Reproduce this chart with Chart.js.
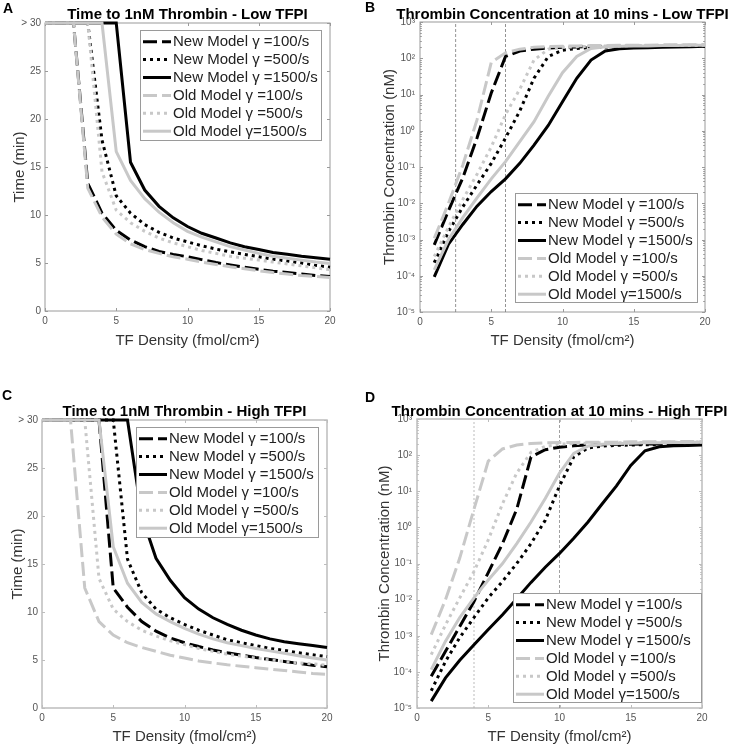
<!DOCTYPE html>
<html><head><meta charset="utf-8">
<script src="https://cdn.jsdelivr.net/npm/chart.js@4/dist/chart.umd.min.js"></script>
<style>
body{margin:0;background:#fff;width:731px;height:747px;position:relative;overflow:hidden}
canvas{position:absolute}
</style></head><body>
<canvas id="cA" width="365" height="390" style="left:0;top:0"></canvas>
<canvas id="cB" width="366" height="390" style="left:365px;top:0"></canvas>
<canvas id="cC" width="365" height="357" style="left:0;top:390px"></canvas>
<canvas id="cD" width="366" height="357" style="left:365px;top:390px"></canvas>
<script>
// ---------- data ----------
const seriesNames = ['New Model \u03b3 =100/s','New Model \u03b3 =500/s','New Model \u03b3 =1500/s','Old Model \u03b3 =100/s','Old Model \u03b3 =500/s','Old Model \u03b3=1500/s'];
const xTickLabels = ['0','5','10','15','20'];
const timeTickLabels = ['0','5','10','15','20','25','> 30'];
const logTickValues = [1e-5,1e-4,1e-3,1e-2,1e-1,1,10,100,1000];
const logTickLabels = ['10\u207b\u2075','10\u207b\u2074','10\u207b\u00b3','10\u207b\u00b2','10\u207b\u00b9','10\u2070','10\u00b9','10\u00b2','10\u00b3'];

const tfTime = [0,1,2,3,4,5,6,7,8,9,10,11,12,13,14,15,16,17,18,19,20];
const tfConc = [1,2,3,4,5,6,7,8,9,10,11,12,13,14,15,16,17,18,19,20];

// Panel A: time to 1nM thrombin, low TFPI (min; 30 = "> 30")
const A_new100  = [30,30,30,13.3,10.2,8.4,7.4,6.7,6.2,5.9,5.65,5.35,5.05,4.8,4.55,4.35,4.15,4.0,3.85,3.7,3.6];
const A_new500  = [30,30,30,30,17.8,12.0,10.2,9.0,8.2,7.6,7.2,6.8,6.45,6.15,5.9,5.65,5.4,5.2,5.0,4.75,4.55];
const A_new1500 = [30,30,30,30,30,30,15.5,12.6,10.9,9.7,8.8,8.1,7.6,7.1,6.7,6.4,6.1,5.9,5.7,5.55,5.4];
const A_old100  = [30,30,30,12.8,9.8,8.0,7.0,6.4,6.0,5.65,5.4,5.1,4.85,4.6,4.4,4.2,4.0,3.85,3.7,3.6,3.5];
const A_old500  = [30,30,30,30,14.5,10.5,9.2,8.3,7.6,7.1,6.7,6.3,6.0,5.7,5.5,5.3,5.1,4.9,4.7,4.5,4.3];
const A_old1500 = [30,30,30,30,30,16.6,13.6,11.7,10.3,9.2,8.3,7.7,7.2,6.7,6.35,6.0,5.7,5.5,5.3,5.1,4.95];

// Panel B: thrombin at 10 min, low TFPI (nM)
const B_new100  = [7.1e-4,6.3e-3,0.05,0.63,11,112,158,178,191,200,204,209,209,214,214,219,219,224,224,224];
const B_new500  = [2.3e-4,1.66e-3,7.9e-3,0.032,0.126,0.63,3.5,28,112,166,186,200,204,209,209,214,214,219,219,219];
const B_new1500 = [9.3e-5,7.4e-4,2.6e-3,8.3e-3,0.021,0.047,0.126,0.4,1.4,6.3,28,89,158,182,191,195,200,204,209,214];
const B_old100  = [1.07e-3,0.01,0.112,2.0,76,141,178,200,209,214,219,224,224,229,229,229,234,234,234,240];
const B_old500  = [3.4e-4,2.2e-3,0.0126,0.063,0.355,2.8,14,89,178,200,209,214,219,219,224,224,224,229,229,229];
const B_old1500 = [1.45e-4,1.0e-3,4.0e-3,0.014,0.047,0.141,0.5,1.78,8.9,40,112,186,209,214,219,219,224,224,229,229];
const B_refLines = [2.5, 6];

// Panel C: time to 1nM thrombin, high TFPI
const C_new100  = [30,30,30,30,30,12.5,10.5,9.0,8.0,7.3,6.8,6.4,6.05,5.75,5.5,5.25,5.05,4.85,4.65,4.45,4.3];
const C_new500  = [30,30,30,30,30,30,15.5,12.0,10.3,9.4,8.7,8.1,7.6,7.1,6.8,6.5,6.2,6.0,5.75,5.55,5.35];
const C_new1500 = [30,30,30,30,30,30,30,20.0,15.6,13.3,11.5,10.3,9.4,8.7,8.1,7.6,7.2,6.9,6.7,6.5,6.3];
const C_old100  = [30,30,30,12.5,9.0,7.6,6.8,6.3,5.9,5.5,5.2,4.9,4.7,4.5,4.35,4.2,4.05,3.9,3.75,3.6,3.5];
const C_old500  = [30,30,30,30,13.5,10.3,9.0,8.1,7.5,7.0,6.6,6.2,5.9,5.6,5.4,5.2,5.0,4.85,4.7,4.6,4.45];
const C_old1500 = [30,30,30,30,30,16.8,13.0,11.0,9.8,9.0,8.3,7.7,7.2,6.8,6.5,6.2,5.95,5.7,5.45,5.2,5.0];

// Panel D: thrombin at 10 min, high TFPI
const D_new100  = [7.6e-5,3.7e-4,1.8e-3,8.9e-3,0.056,0.355,3.2,89,141,166,182,191,195,200,200,204,204,209,209,209];
const D_new500  = [3.0e-5,1.95e-4,8.9e-4,3.2e-3,0.0112,0.032,0.1,0.355,1.58,14,89,158,178,186,191,195,195,200,200,200];
const D_new1500 = [1.55e-5,6.8e-5,2.1e-4,5.6e-4,1.48e-3,3.8e-3,0.0105,0.03,0.079,0.19,0.5,1.41,4.5,14,52,132,170,182,186,191];
const D_old100  = [1.07e-3,0.01,0.141,3.2,68,148,191,209,219,224,224,229,229,229,234,234,234,234,240,240];
const D_old500  = [3.0e-4,2.0e-3,0.0112,0.06,0.45,4.5,32,120,174,200,209,214,219,219,224,224,229,229,229,234];
const D_old1500 = [1.15e-4,7.1e-4,3.2e-3,0.0112,0.035,0.1,0.355,1.41,6.3,32,112,178,200,209,214,219,219,224,224,229];
const D_refLines = [4, 10];

// ---------- styling ----------
const FONT = '"Liberation Sans", Arial, Helvetica, sans-serif';
const STY = [
  {c:'#000000', d:[14,5]}, {c:'#000000', d:[3,4]}, {c:'#000000', d:[]},
  {c:'#c8c8c8', d:[14,5]}, {c:'#c8c8c8', d:[3,4]}, {c:'#c8c8c8', d:[]}
];

function series(xs, ys, i) {
  return {
    label: seriesNames[i],
    data: xs.map((x, k) => ({x: x, y: ys[k]})),
    borderColor: STY[i].c, borderDash: STY[i].d, borderWidth: 3,
    pointRadius: 0, tension: 0, fill: false, order: 20 - i, clip: 6,
    borderCapStyle: 'butt', borderJoinStyle: 'miter'
  };
}
function refLine(x, color, dash) {
  return {label: '', isRef: true, data: [{x: x, y: 1e-5}, {x: x, y: 1e3}],
    borderColor: color, borderDash: dash, borderWidth: 0.8, pointRadius: 0, order: 40, clip: 0};
}

function decoPlugin(cfg) {
  return {
    id: 'deco' + cfg.letter,
    beforeDatasetsDraw(chart) {
      const {ctx, chartArea: a, scales: {x, y}} = chart;
      ctx.save();
      ctx.strokeStyle = cfg.frame; ctx.lineWidth = cfg.frameW;
      ctx.strokeRect(a.left, a.top, a.right - a.left, a.bottom - a.top);
      ctx.lineWidth = 1;
      const L = (x1, y1, x2, y2) => { ctx.beginPath(); ctx.moveTo(x1, y1); ctx.lineTo(x2, y2); ctx.stroke(); };
      x.ticks.forEach(t => { const p = Math.round(x.getPixelForValue(t.value)) + 0.5; L(p, a.bottom, p, a.bottom - 3); L(p, a.top, p, a.top + 3); });
      y.ticks.forEach(t => { const p = Math.round(y.getPixelForValue(t.value)) + 0.5; L(a.left, p, a.left + 3, p); L(a.right, p, a.right - 3, p); });
      if (cfg.log) {
        for (let k = 0; k < logTickValues.length - 1; k++) {
          for (let m = 2; m <= 9; m++) {
            const p = Math.round(y.getPixelForValue(logTickValues[k] * m)) + 0.5;
            L(a.left, p, a.left + 1.8, p); L(a.right, p, a.right - 1.8, p);
          }
        }
      }
      ctx.restore();
    },
    afterDatasetsDraw(chart) {
      const {ctx, chartArea: a} = chart;
      const G = cfg.legend;
      const bx = a.right - G.dr - G.w;
      const by = (G.top != null) ? a.top + G.top : a.bottom - G.bottom - G.h;
      ctx.save();
      ctx.fillStyle = '#fff'; ctx.fillRect(bx, by, G.w, G.h);
      ctx.strokeStyle = '#9a9a9a'; ctx.lineWidth = 1; ctx.strokeRect(bx + 0.5, by + 0.5, G.w - 1, G.h - 1);
      chart.data.datasets.forEach((ds, i) => {
        if (ds.isRef) return;
        const cy = by + 11.7 + i * 17.9;
        ctx.setLineDash(ds.borderDash); ctx.strokeStyle = ds.borderColor; ctx.lineWidth = 3; ctx.lineCap = 'butt';
        ctx.beginPath(); ctx.moveTo(bx + 3, cy); ctx.lineTo(bx + 31, cy); ctx.stroke();
        ctx.setLineDash([]);
        ctx.fillStyle = '#222'; ctx.font = '15px ' + FONT; ctx.textBaseline = 'middle'; ctx.textAlign = 'left';
        ctx.fillText(ds.label, bx + 33, cy + 0.5);
      });
      ctx.restore();
    },
    afterDraw(chart) {
      const {ctx, chartArea: a} = chart;
      ctx.save();
      ctx.fillStyle = '#000'; ctx.textBaseline = 'alphabetic';
      ctx.font = 'bold 15px ' + FONT; ctx.textAlign = 'center';
      ctx.fillText(cfg.title, (a.left + a.right) / 2, cfg.titleY);
      ctx.font = 'bold 14px ' + FONT; ctx.textAlign = 'left';
      ctx.fillText(cfg.letter, cfg.lx, cfg.ly);
      ctx.restore();
    }
  };
}

function makeChart(id, cfg, datasets) {
  const tickFont = {family: FONT, size: 10};
  const yScale = cfg.log ? {
    type: 'logarithmic', min: 1e-5, max: 1e3,
    grid: {display: false, drawTicks: false}, border: {display: false},
    afterBuildTicks: s => { s.ticks = logTickValues.map(v => ({value: v})); },
    ticks: {padding: 5, color: '#555', font: tickFont, autoSkip: false, callback: (v, i) => logTickLabels[i]},
    title: {display: true, text: 'Thrombin Concentration (nM)', color: '#333', font: {family: FONT, size: 15}, padding: {top: cfg.ytPad, bottom: 0}},
    afterFit: s => { s.width = cfg.yW; }
  } : {
    type: 'linear', min: 0, max: 30,
    grid: {display: false, drawTicks: false}, border: {display: false},
    ticks: {stepSize: 5, padding: 4, color: '#555', font: tickFont, autoSkip: false, callback: (v, i) => timeTickLabels[i]},
    title: {display: true, text: 'Time (min)', color: '#333', font: {family: FONT, size: 15}, padding: {top: cfg.ytPad, bottom: 0}},
    afterFit: s => { s.width = cfg.yW; }
  };
  return new Chart(document.getElementById(id), {
    type: 'line',
    data: {datasets: datasets},
    options: {
      responsive: false, animation: false, devicePixelRatio: 1,
      layout: {padding: cfg.pad},
      plugins: {legend: {display: false}, tooltip: {enabled: false}, title: {display: false}},
      scales: {
        x: {
          type: 'linear', min: 0, max: 20,
          grid: {display: false, drawTicks: false}, border: {display: false},
          ticks: {stepSize: 5, padding: 4, color: '#555', font: tickFont, maxRotation: 0, autoSkip: false, callback: (v, i) => xTickLabels[i]},
          title: {display: true, text: 'TF Density (fmol/cm\u00b2)', color: '#333', font: {family: FONT, size: 15}, padding: {top: 0, bottom: cfg.xtPad}},
          afterFit: s => { s.height = cfg.xH; }
        },
        y: yScale
      }
    },
    plugins: [decoPlugin(cfg)]
  });
}

makeChart('cA', {letter: 'A', lx: 3, ly: 13, title: 'Time to 1nM Thrombin - Low TFPI', titleY: 19,
  pad: {left: 0, top: 23, right: 35, bottom: 34}, yW: 45, xH: 45, ytPad: 11, xtPad: 6,
  frame: '#9a9a9a', frameW: 1, legend: {w: 182, h: 111, dr: 8, top: 7}},
  [series(tfTime, A_new100, 0), series(tfTime, A_new500, 1), series(tfTime, A_new1500, 2),
   series(tfTime, A_old100, 3), series(tfTime, A_old500, 4), series(tfTime, A_old1500, 5)]);

makeChart('cB', {letter: 'B', lx: 0, ly: 12, log: true, title: 'Thrombin Concentration at 10 mins - Low TFPI', titleY: 19,
  pad: {left: 0, top: 22, right: 26, bottom: 33}, yW: 55, xH: 45, ytPad: 16, xtPad: 7,
  frame: '#9a9a9a', frameW: 1, legend: {w: 183, h: 110, dr: 7, bottom: 9}},
  [series(tfConc, B_new100, 0), series(tfConc, B_new500, 1), series(tfConc, B_new1500, 2),
   series(tfConc, B_old100, 3), series(tfConc, B_old500, 4), series(tfConc, B_old1500, 5),
   refLine(B_refLines[0], '#777', [3, 2]), refLine(B_refLines[1], '#777', [3, 2])]);

makeChart('cC', {letter: 'C', lx: 2, ly: 10, title: 'Time to 1nM Thrombin - High TFPI', titleY: 26,
  pad: {left: 0, top: 30, right: 38, bottom: 1}, yW: 42, xH: 38, ytPad: 8.5, xtPad: 0,
  frame: '#bdbdbd', frameW: 1.5, legend: {w: 183, h: 111, dr: 8, top: 7}},
  [series(tfTime, C_new100, 0), series(tfTime, C_new500, 1), series(tfTime, C_new1500, 2),
   series(tfTime, C_old100, 3), series(tfTime, C_old500, 4), series(tfTime, C_old1500, 5)]);

makeChart('cD', {letter: 'D', lx: 0, ly: 12, log: true, title: 'Thrombin Concentration at 10 mins - High TFPI', titleY: 26,
  pad: {left: 0, top: 29, right: 29, bottom: 1}, yW: 52, xH: 38, ytPad: 11, xtPad: 0,
  frame: '#bdbdbd', frameW: 1.5, legend: {w: 189, h: 110, dr: 0, bottom: 5}},
  [series(tfConc, D_new100, 0), series(tfConc, D_new500, 1), series(tfConc, D_new1500, 2),
   series(tfConc, D_old100, 3), series(tfConc, D_old500, 4), series(tfConc, D_old1500, 5),
   refLine(D_refLines[0], '#aaa', [2, 2]), refLine(D_refLines[1], '#888', [3, 2])]);
</script>
</body></html>
